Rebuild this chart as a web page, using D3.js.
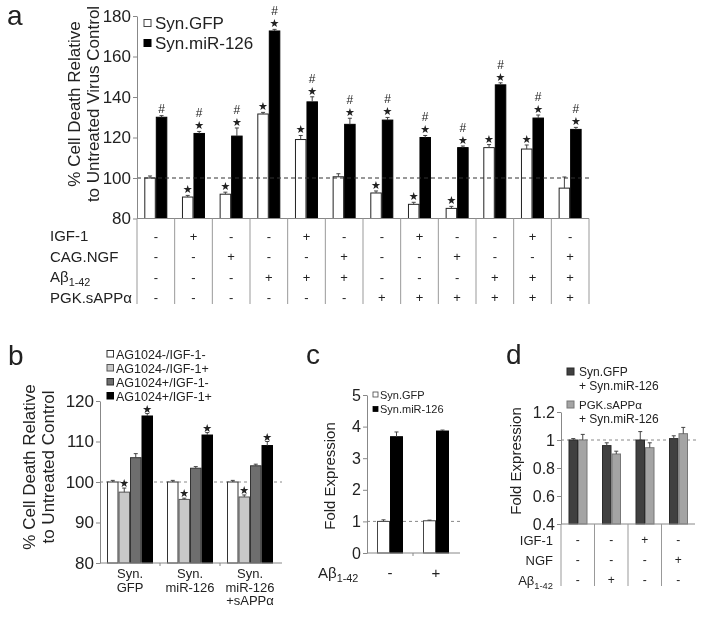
<!DOCTYPE html>
<html lang="en">
<head>
<meta charset="utf-8">
<title>miR-126 cell death and expression</title>
<script src="https://cdn.jsdelivr.net/npm/d3@7"></script>
<style>
  body { margin: 0; background: #fff; }
  svg { filter: grayscale(100%); }
  text { font-family: "Liberation Sans", Arial, sans-serif; fill: #222; }
  .star { font-family: "DejaVu Sans", sans-serif; fill: #222; }
</style>
</head>
<body>
<script>
// ----- panel a -----
var groupsA = ["1", "2", "3", "4", "5", "6", "7", "8", "9", "10", "11", "12"];
var seriesA = ["Syn.GFP", "Syn.miR-126"];
var gfpA    = [100, 90.6, 92, 131.6, 119, 100.6, 92.6, 87, 85, 115, 114.3, 95];
var gfpAErr = [1, 0.8, 1, 0.8, 2, 1.5, 1, 1, 1, 1.5, 2, 5.5];
var mirA    = [130, 122, 120.7, 172.6, 137.6, 126.5, 128.6, 120, 115, 146, 129.6, 124];
var mirAErr = [0.8, 1, 4, 0.8, 2.5, 3, 1.3, 1, 0.8, 1, 1.5, 1];
var gfpAStar  = [0, 1, 1, 1, 1, 0, 1, 1, 1, 1, 1, 0];
var mirAStar  = [0, 1, 1, 1, 1, 1, 1, 1, 1, 1, 1, 1];
var ticksA = [80, 100, 120, 140, 160, 180];
var rowsA = ["IGF-1", "CAG.NGF", "Aβ", "PGK.sAPPα"];
var tableA = [
  ["-", "+", "-", "-", "+", "-", "-", "+", "-", "-", "+", "-"],
  ["-", "-", "+", "-", "-", "+", "-", "-", "+", "-", "-", "+"],
  ["-", "-", "-", "+", "+", "+", "-", "-", "-", "+", "+", "+"],
  ["-", "-", "-", "-", "-", "-", "+", "+", "+", "+", "+", "+"]
];

// ----- panel b -----
var groupsB = [["Syn.", "GFP"], ["Syn.", "miR-126"], ["Syn.", "miR-126", "+sAPPα"]];
var seriesB = ["AG1024-/IGF-1-", "AG1024-/IGF-1+", "AG1024+/IGF-1-", "AG1024+/IGF-1+"];
var valuesB = [
  [100, 100, 100],
  [97.5, 95.7, 96.3],
  [106, 103.4, 104],
  [116.3, 111.6, 109]
];
var errB = [
  [0.4, 0.4, 0.4],
  [1, 0.3, 0.5],
  [1, 0.4, 0.4],
  [0.6, 0.6, 1]
];
var starB = [[0, 0, 0], [1, 1, 1], [0, 0, 0], [1, 1, 1]];
var ticksB = [80, 90, 100, 110, 120];

// ----- panel c -----
var groupsC = ["-", "+"];
var seriesC = ["Syn.GFP", "Syn.miR-126"];
var gfpC    = [1, 1.02];
var gfpCErr = [0.05, 0.02];
var mirC    = [3.68, 3.86];
var mirCErr = [0.15, 0.03];
var ticksC = [0, 1, 2, 3, 4, 5];

// ----- panel d -----
var groupsD = ["1", "2", "3", "4"];
var seriesD = [["Syn.GFP", "+ Syn.miR-126"], ["PGK.sAPPα", "+ Syn.miR-126"]];
var gfpD    = [1.0, 0.96, 1.0, 1.01];
var gfpDErr = [0.01, 0.02, 0.06, 0.02];
var sappD   = [1.0, 0.9, 0.945, 1.045];
var sappDErr = [0.04, 0.02, 0.035, 0.045];
var ticksD = [0.4, 0.6, 0.8, 1, 1.2];
var rowsD = ["IGF-1", "NGF", "Aβ"];
var tableD = [
  ["-", "-", "+", "-"],
  ["-", "-", "-", "+"],
  ["-", "+", "-", "-"]
];

var svg = d3.select("body").append("svg")
    .attr("width", 701)
    .attr("height", 619);

// helpers
function yAxis(scale, x, ticks, fmt, size) {
  var g = svg.append("g")
      .attr("transform", "translate(" + x + ",0)")
      .call(d3.axisLeft(scale).tickValues(ticks).tickFormat(fmt).tickSize(4).tickSizeOuter(0));
  g.select(".domain").attr("stroke", "#888");
  g.selectAll(".tick line").attr("stroke", "#888");
  g.selectAll(".tick text")
      .style("font-family", "'Liberation Sans', Arial, sans-serif")
      .style("font-size", size + "px")
      .attr("fill", "#222")
      .attr("x", -6);
  return g;
}

function bars(x0, x1, key, y, vals, errs, fill, stroke) {
  var base = y.range()[0];
  var dom = x0.domain();
  var g = svg.append("g");
  g.selectAll("rect").data(vals).enter().append("rect")
      .attr("x", function(d, i) { return x0(dom[i]) + x1(key) + 0.5; })
      .attr("y", function(d) { return y(d); })
      .attr("width", x1.bandwidth() - 1)
      .attr("height", function(d) { return base - y(d); })
      .attr("fill", fill)
      .attr("stroke", stroke)
      .attr("stroke-width", 1);
  var cx = function(i) { return x0(dom[i]) + x1(key) + x1.bandwidth() / 2; };
  g.selectAll("line.err").data(vals).enter().append("line")
      .attr("x1", function(d, i) { return cx(i); })
      .attr("x2", function(d, i) { return cx(i); })
      .attr("y1", function(d) { return y(d); })
      .attr("y2", function(d, i) { return y(d + errs[i]); })
      .attr("stroke", "#444");
  g.selectAll("line.cap").data(vals).enter().append("line")
      .attr("x1", function(d, i) { return cx(i) - 2; })
      .attr("x2", function(d, i) { return cx(i) + 2; })
      .attr("y1", function(d, i) { return y(d + errs[i]); })
      .attr("y2", function(d, i) { return y(d + errs[i]); })
      .attr("stroke", "#444");
  return cx;
}

function marks(cx, y, vals, errs, flags, glyph, lift, size, cls) {
  vals.forEach(function(v, i) {
    if (!flags[i]) return;
    svg.append("text")
        .attr("class", cls)
        .attr("x", cx(i))
        .attr("y", y(v + errs[i]) - lift)
        .attr("text-anchor", "middle")
        .style("font-size", size + "px")
        .attr("fill", "#333")
        .text(glyph);
  });
}

function yTitle(lines, x, y, size, gap) {
  var t = svg.append("text")
      .attr("transform", "translate(" + x + "," + y + ") rotate(-90)")
      .attr("text-anchor", "middle")
      .style("font-size", size + "px");
  lines.forEach(function(l, i) {
    t.append("tspan").attr("x", 0).attr("y", i * gap).attr("dy", "0.35em").text(l);
  });
}

function panelLabel(s, x, y) {
  svg.append("text").attr("x", x).attr("y", y).style("font-size", "28px").text(s);
}

function abeta(sel) {
  sel.append("tspan").text("Aβ");
  sel.append("tspan").attr("dy", 4).style("font-size", "0.72em").text("1-42");
}

function dashed(y, x1, x2, color, dash) {
  svg.append("line")
      .attr("x1", x1).attr("x2", x2).attr("y1", y).attr("y2", y)
      .attr("stroke", color).attr("stroke-dasharray", dash);
}

// ================= panel a =================
var yA = d3.scaleLinear().domain([80, 180]).range([218.5, 16]);
var x0A = d3.scaleBand().domain(groupsA).range([137, 589]);
var x1A = d3.scaleBand().domain(seriesA).range([7.3, 30.3]);

var cxGfpA = bars(x0A, x1A, seriesA[0], yA, gfpA, gfpAErr, "#fff", "#222");
var cxMirA = bars(x0A, x1A, seriesA[1], yA, mirA, mirAErr, "#000", "#000");
dashed(yA(100), 137, 590, "#333", "4,3");
yAxis(yA, 137, ticksA, d3.format("d"), 17);

svg.append("line").attr("x1", 137).attr("x2", 589).attr("y1", yA(80)).attr("y2", yA(80)).attr("stroke", "#888");
groupsA.concat(["end"]).forEach(function(k, i) {
  var x = i < groupsA.length ? x0A(k) : 589;
  svg.append("line").attr("x1", x).attr("x2", x).attr("y1", yA(80)).attr("y2", 304).attr("stroke", "#999");
});

marks(cxGfpA, yA, gfpA, gfpAErr, gfpAStar, "★", 2, 11, "star");
marks(cxMirA, yA, mirA, mirAErr, mirAStar, "★", 2, 11, "star");
// hash sits above the star, or right above the bar when there is no star
mirA.forEach(function(v, i) {
  svg.append("text")
      .attr("class", "hash")
      .attr("x", cxMirA(i))
      .attr("y", yA(v + mirAErr[i]) - (mirAStar[i] ? 14 : 3))
      .attr("text-anchor", "middle")
      .style("font-size", "12px")
      .attr("fill", "#555")
      .text("#");
});

rowsA.forEach(function(r, ri) {
  var yy = 236 + ri * 20.5;
  var t = svg.append("text").attr("x", 50).attr("y", yy).attr("dy", "0.35em").style("font-size", "15px");
  if (r === "Aβ") abeta(t); else t.text(r);
  tableA[ri].forEach(function(s, gi) {
    svg.append("text")
        .attr("x", x0A(groupsA[gi]) + x0A.bandwidth() / 2)
        .attr("y", yy).attr("dy", "0.35em")
        .attr("text-anchor", "middle")
        .style("font-size", "13px")
        .attr("fill", "#555")
        .text(s);
  });
});

// legend a
seriesA.forEach(function(s, i) {
  svg.append("rect").attr("x", 144).attr("y", 19.5 + i * 20).attr("width", 7).attr("height", 7)
      .attr("fill", i ? "#000" : "#fff").attr("stroke", i ? "#000" : "#444");
  svg.append("text").attr("x", 155).attr("y", 28.5 + i * 20).style("font-size", "17px").text(s);
});

yTitle(["% Cell Death Relative", "to Untreated Virus Control"], 74, 104, 17, 19);
panelLabel("a", 7, 25);

// ================= panel b =================
var yB = d3.scaleLinear().domain([80, 120]).range([563, 401]);
var x0B = d3.scaleBand().domain(groupsB.map(function(d) { return d.join(" "); })).range([100, 280]);
var x1B = d3.scaleBand().domain(seriesB).range([7, 53]);
var fillsB = ["#fff", "#c8c8c8", "#6e6e6e", "#000"];
var strokesB = ["#333", "#555", "#333", "#000"];

dashed(yB(100), 100, 282, "#888", "3,3");
seriesB.forEach(function(s, si) {
  var cx = bars(x0B, x1B, s, yB, valuesB[si], errB[si], fillsB[si], strokesB[si]);
  marks(cx, yB, valuesB[si], errB[si], starB[si], "★", 1, 11, "star");
});
yAxis(yB, 100, ticksB, d3.format("d"), 17);
svg.append("line").attr("x1", 100).attr("x2", 282).attr("y1", yB(80)).attr("y2", yB(80)).attr("stroke", "#888");
[160, 220].forEach(function(x) {
  svg.append("line").attr("x1", x).attr("x2", x).attr("y1", yB(80)).attr("y2", yB(80) + 3).attr("stroke", "#888");
});
groupsB.forEach(function(lines, gi) {
  var cx = x0B(x0B.domain()[gi]) + x0B.bandwidth() / 2;
  lines.forEach(function(l, li) {
    svg.append("text").attr("x", cx).attr("y", 578 + li * 13.5)
        .attr("text-anchor", "middle").style("font-size", "13px").text(l);
  });
});
seriesB.forEach(function(s, i) {
  svg.append("rect").attr("x", 107).attr("y", 350.5 + i * 14).attr("width", 6.5).attr("height", 6.5)
      .attr("fill", fillsB[i]).attr("stroke", strokesB[i]);
  svg.append("text").attr("x", 116).attr("y", 358.5 + i * 14).style("font-size", "12.5px").text(s);
});
yTitle(["% Cell Death Relative", "to Untreated Control"], 29, 467, 17, 19);
panelLabel("b", 8, 365);

// ================= panel c =================
var yC = d3.scaleLinear().domain([0, 5]).range([553, 395]);
var x0C = d3.scaleBand().domain(groupsC).range([367, 459]);
var x1C = d3.scaleBand().domain(seriesC).range([10, 36]);

dashed(yC(1), 367, 460, "#888", "3,3");
bars(x0C, x1C, seriesC[0], yC, gfpC, gfpCErr, "#fff", "#444");
bars(x0C, x1C, seriesC[1], yC, mirC, mirCErr, "#000", "#000");
yAxis(yC, 367, ticksC, d3.format("d"), 16);
svg.append("line").attr("x1", 367).attr("x2", 460).attr("y1", yC(0)).attr("y2", yC(0)).attr("stroke", "#888");
svg.append("line").attr("x1", 413).attr("x2", 413).attr("y1", yC(0)).attr("y2", yC(0) + 3).attr("stroke", "#888");
var tc = svg.append("text").attr("x", 318).attr("y", 573).attr("dy", "0.35em").style("font-size", "15px");
abeta(tc);
groupsC.forEach(function(g) {
  svg.append("text").attr("x", x0C(g) + x0C.bandwidth() / 2).attr("y", 573).attr("dy", "0.35em")
      .attr("text-anchor", "middle").style("font-size", "15px").text(g);
});
seriesC.forEach(function(s, i) {
  svg.append("rect").attr("x", 373).attr("y", 392 + i * 14.5).attr("width", 5).attr("height", 5)
      .attr("fill", i ? "#000" : "#fff").attr("stroke", i ? "#000" : "#444").attr("stroke-width", 0.8);
  svg.append("text").attr("x", 380).attr("y", 398.5 + i * 14.5).style("font-size", "11px").text(s);
});
yTitle(["Fold Expression"], 330, 476, 15, 0);
panelLabel("c", 306, 364);

// ================= panel d =================
var yD = d3.scaleLinear().domain([0.4, 1.2]).range([524, 412]);
var x0D = d3.scaleBand().domain(groupsD).range([561, 695]);
var x1D = d3.scaleBand().domain(["gfp", "sapp"]).range([7.5, 26.5]);

dashed(yD(1), 561, 697, "#888", "3,3");
bars(x0D, x1D, "gfp", yD, gfpD, gfpDErr, "#404040", "#2a2a2a");
bars(x0D, x1D, "sapp", yD, sappD, sappDErr, "#a4a4a4", "#777");
yAxis(yD, 561, ticksD, function(d) { return d === 1 ? "1" : d3.format(".1f")(d); }, 16);
svg.append("line").attr("x1", 561).attr("x2", 695).attr("y1", yD(0.4)).attr("y2", yD(0.4)).attr("stroke", "#888");
groupsD.forEach(function(g) {
  var x = x0D(g);
  svg.append("line").attr("x1", x).attr("x2", x).attr("y1", yD(0.4)).attr("y2", 586).attr("stroke", "#999");
});
rowsD.forEach(function(r, ri) {
  var yy = 540 + ri * 20;
  var t = svg.append("text").attr("x", 553).attr("y", yy).attr("dy", "0.35em")
      .attr("text-anchor", "end").style("font-size", "13px");
  if (r === "Aβ") abeta(t); else t.text(r);
  tableD[ri].forEach(function(s, gi) {
    svg.append("text").attr("x", x0D(groupsD[gi]) + x0D.bandwidth() / 2).attr("y", yy).attr("dy", "0.35em")
        .attr("text-anchor", "middle").style("font-size", "12px").attr("fill", "#555").text(s);
  });
});
var fillsD = ["#404040", "#a4a4a4"];
seriesD.forEach(function(lines, i) {
  var top = 368 + i * 33;
  svg.append("rect").attr("x", 567).attr("y", top).attr("width", 7).attr("height", 7)
      .attr("fill", fillsD[i]).attr("stroke", i ? "#777" : "#2a2a2a");
  lines.forEach(function(l, li) {
    svg.append("text").attr("x", 579).attr("y", top + 8 + li * 14)
        .style("font-size", li === 0 && i === 1 ? "11.5px" : "12px").text(l);
  });
});
yTitle(["Fold Expression"], 516, 461, 15, 0);
panelLabel("d", 506, 364);
</script>
</body>
</html>
